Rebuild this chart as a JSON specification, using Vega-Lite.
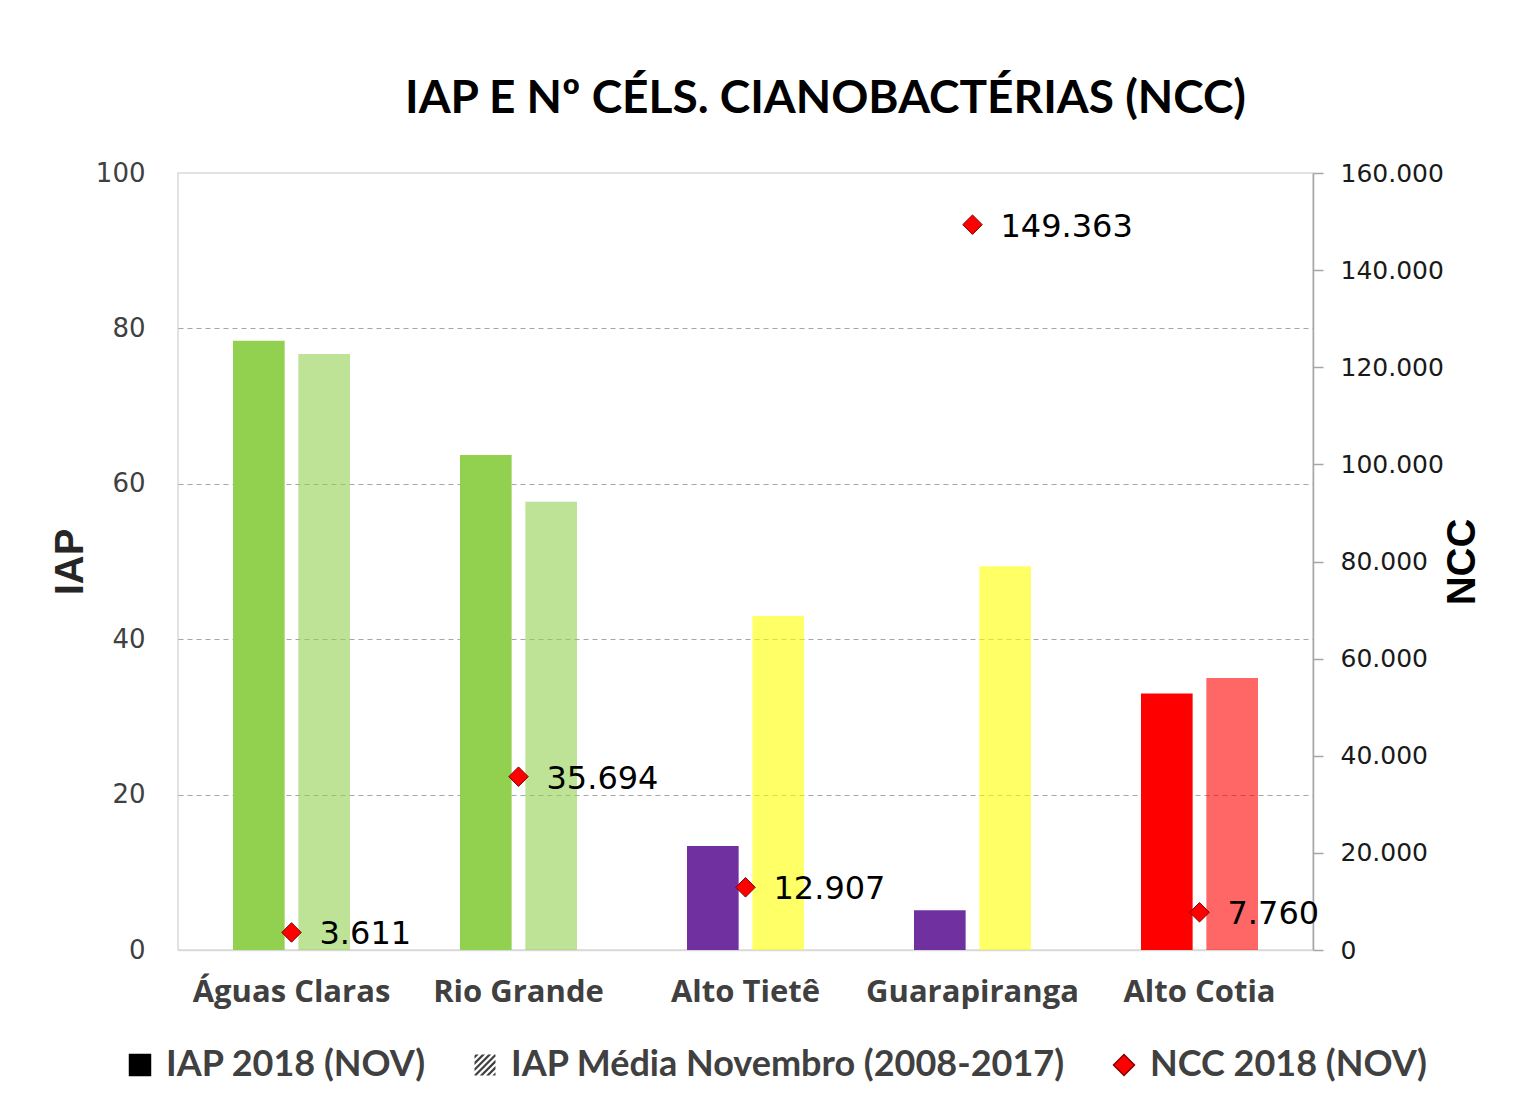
{
  "$schema": "https://vega.github.io/schema/vega-lite/v6.json",
  "width": 1135,
  "height": 777,
  "padding": {"left": 50, "top": 76, "right": 0, "bottom": 0},
  "background": "white",
  "title": {"text": "IAP E Nº CÉLS. CIANOBACTÉRIAS (NCC)", "font": "Lato", "fontSize": 46, "fontWeight": "bold", "color": "#000000", "anchor": "middle", "dx": 80, "offset": 37},
  "datasets": {
    "iap": [
      {"reservatorio": "Águas Claras", "serie": "IAP 2018 (NOV)", "iap": 78.4, "qualidade": "Boa"},
      {"reservatorio": "Águas Claras", "serie": "IAP Média Novembro (2008-2017)", "iap": 76.7, "qualidade": "Boa"},
      {"reservatorio": "Rio Grande", "serie": "IAP 2018 (NOV)", "iap": 63.7, "qualidade": "Boa"},
      {"reservatorio": "Rio Grande", "serie": "IAP Média Novembro (2008-2017)", "iap": 57.7, "qualidade": "Boa"},
      {"reservatorio": "Alto Tietê", "serie": "IAP 2018 (NOV)", "iap": 13.4, "qualidade": "Péssima"},
      {"reservatorio": "Alto Tietê", "serie": "IAP Média Novembro (2008-2017)", "iap": 43.0, "qualidade": "Regular"},
      {"reservatorio": "Guarapiranga", "serie": "IAP 2018 (NOV)", "iap": 5.1, "qualidade": "Péssima"},
      {"reservatorio": "Guarapiranga", "serie": "IAP Média Novembro (2008-2017)", "iap": 49.4, "qualidade": "Regular"},
      {"reservatorio": "Alto Cotia", "serie": "IAP 2018 (NOV)", "iap": 33.0, "qualidade": "Ruim"},
      {"reservatorio": "Alto Cotia", "serie": "IAP Média Novembro (2008-2017)", "iap": 35.0, "qualidade": "Ruim"}
    ],
    "ncc": [
      {"reservatorio": "Águas Claras", "serie": "NCC 2018 (NOV)", "ncc": 3611},
      {"reservatorio": "Rio Grande", "serie": "NCC 2018 (NOV)", "ncc": 35694},
      {"reservatorio": "Alto Tietê", "serie": "NCC 2018 (NOV)", "ncc": 12907},
      {"reservatorio": "Guarapiranga", "serie": "NCC 2018 (NOV)", "ncc": 149363},
      {"reservatorio": "Alto Cotia", "serie": "NCC 2018 (NOV)", "ncc": 7760}
    ]
  },
  "encoding": {
    "x": {
      "field": "reservatorio",
      "type": "nominal",
      "sort": ["Águas Claras", "Rio Grande", "Alto Tietê", "Guarapiranga", "Alto Cotia"],
      "scale": {"paddingInner": 0.4846, "paddingOuter": 0.2423},
      "axis": {
        "title": null,
        "labelAngle": 0,
        "labelFont": "Open Sans",
        "labelFontSize": 31,
        "labelFontWeight": "bold",
        "labelColor": "#404040",
        "labelPadding": 27,
        "labelLimit": 0,
        "domain": true,
        "domainColor": "#d9d9d9",
        "domainWidth": 1.5,
        "ticks": false,
        "grid": false
      }
    }
  },
  "layer": [
    {
      "data": {"name": "iap"},
      "mark": {"type": "bar"},
      "encoding": {
        "xOffset": {
          "field": "serie",
          "type": "nominal",
          "sort": ["IAP 2018 (NOV)", "IAP Média Novembro (2008-2017)"],
          "scale": {"paddingInner": 0.21, "paddingOuter": 0}
        },
        "y": {
          "field": "iap",
          "type": "quantitative",
          "scale": {"domain": [0, 100], "nice": false},
          "axis": {
            "orient": "left",
            "values": [0, 20, 40, 60, 80, 100],
            "title": "IAP",
            "titleFont": "Liberation Sans",
            "titleFontSize": 40,
            "titleFontWeight": "bold",
            "titleColor": "#262626",
            "titlePadding": 5,
            "labelFont": "DejaVu Sans",
            "labelFontSize": 26,
            "labelColor": "#404040",
            "labelPadding": 33,
            "domain": false,
            "ticks": false,
            "grid": true,
            "gridColor": "#a6a6a6",
            "gridDash": [5, 4],
            "gridWidth": 1.2,
            "gridOpacity": {"condition": {"test": "datum.value === 0 || datum.value === 100", "value": 0}, "value": 1}
          }
        },
        "color": {
          "field": "qualidade",
          "type": "nominal",
          "scale": {"domain": ["Boa", "Regular", "Ruim", "Péssima"], "range": ["#92d050", "#ffff00", "#ff0000", "#7030a0"]},
          "legend": null
        },
        "fillOpacity": {
          "field": "serie",
          "type": "ordinal",
          "scale": {"domain": ["IAP 2018 (NOV)", "IAP Média Novembro (2008-2017)"], "range": [1, 0.6]},
          "legend": null
        }
      }
    },
    {
      "data": {"name": "ncc"},
      "encoding": {
        "y": {
          "field": "ncc",
          "type": "quantitative",
          "scale": {"domain": [0, 160000], "nice": false},
          "axis": {
            "orient": "right",
            "values": [0, 20000, 40000, 60000, 80000, 100000, 120000, 140000, 160000],
            "format": ",d",
            "title": "NCC",
            "titleAngle": 270,
            "titleFont": "Liberation Sans",
            "titleFontSize": 40,
            "titleFontWeight": "bold",
            "titleColor": "#000000",
            "titlePadding": 39,
            "labelFont": "DejaVu Sans",
            "labelFontSize": 25,
            "labelColor": "#1a1a1a",
            "labelPadding": 17,
            "domain": true,
            "domainColor": "#a6a6a6",
            "domainWidth": 1.5,
            "ticks": true,
            "tickSize": 10,
            "tickColor": "#a6a6a6",
            "tickWidth": 1.5,
            "grid": false
          }
        }
      },
      "layer": [
        {
          "mark": {"type": "point", "filled": true, "size": 380, "strokeWidth": 1, "opacity": 1},
          "encoding": {
            "shape": {
              "field": "serie",
              "type": "nominal",
              "scale": {
                "domain": ["IAP 2018 (NOV)", "IAP Média Novembro (2008-2017)", "NCC 2018 (NOV)"],
                "range": ["square", "M-1,-0.9L-0.9,-1L-0.6,-1L-1,-0.6Z M-1,-0.3L-0.3,-1L0,-1L-1,0Z M-1,0.3L0.3,-1L0.6,-1L-1,0.6Z M-1,0.9L-1,1L-0.8,1L1,-0.8L1,-1L0.9,-1Z M-0.5,1L1,-0.5L1,-0.2L-0.2,1Z M0.1,1L1,0.1L1,0.4L0.4,1Z M0.7,1L1,0.7L1,1Z", "diamond"]
              },
              "legend": {
                "title": null,
                "orient": "none",
                "legendX": -56,
                "legendY": 874,
                "direction": "horizontal",
                "labelFont": "Lato",
                "labelFontSize": 36,
                "labelFontWeight": "bold",
                "labelColor": "#404040",
                "labelLimit": 0,
                "labelOffset": 8,
                "columnPadding": 40,
                "symbolSize": 440
              }
            },
            "fill": {
              "field": "serie",
              "type": "nominal",
              "scale": {
                "domain": ["IAP 2018 (NOV)", "IAP Média Novembro (2008-2017)", "NCC 2018 (NOV)"],
                "range": ["#000000", "#404040", "#ff0000"]
              }
            },
            "stroke": {
              "field": "serie",
              "type": "nominal",
              "scale": {
                "domain": ["IAP 2018 (NOV)", "IAP Média Novembro (2008-2017)", "NCC 2018 (NOV)"],
                "range": ["#000000", "transparent", "#7f0000"]
              }
            }
          }
        },
        {
          "mark": {"type": "text", "align": "left", "baseline": "middle", "dx": 28, "dy": 2, "font": "DejaVu Sans", "fontSize": 32, "color": "#000000"},
          "encoding": {
            "text": {"field": "ncc", "type": "quantitative", "format": ",d"}
          }
        }
      ]
    }
  ],
  "resolve": {"scale": {"y": "independent"}},
  "config": {
    "view": {"stroke": "#d9d9d9", "strokeWidth": 1.5},
    "locale": {"number": {"decimal": ",", "thousands": ".", "grouping": [3], "currency": ["R$", ""]}}
  }
}
